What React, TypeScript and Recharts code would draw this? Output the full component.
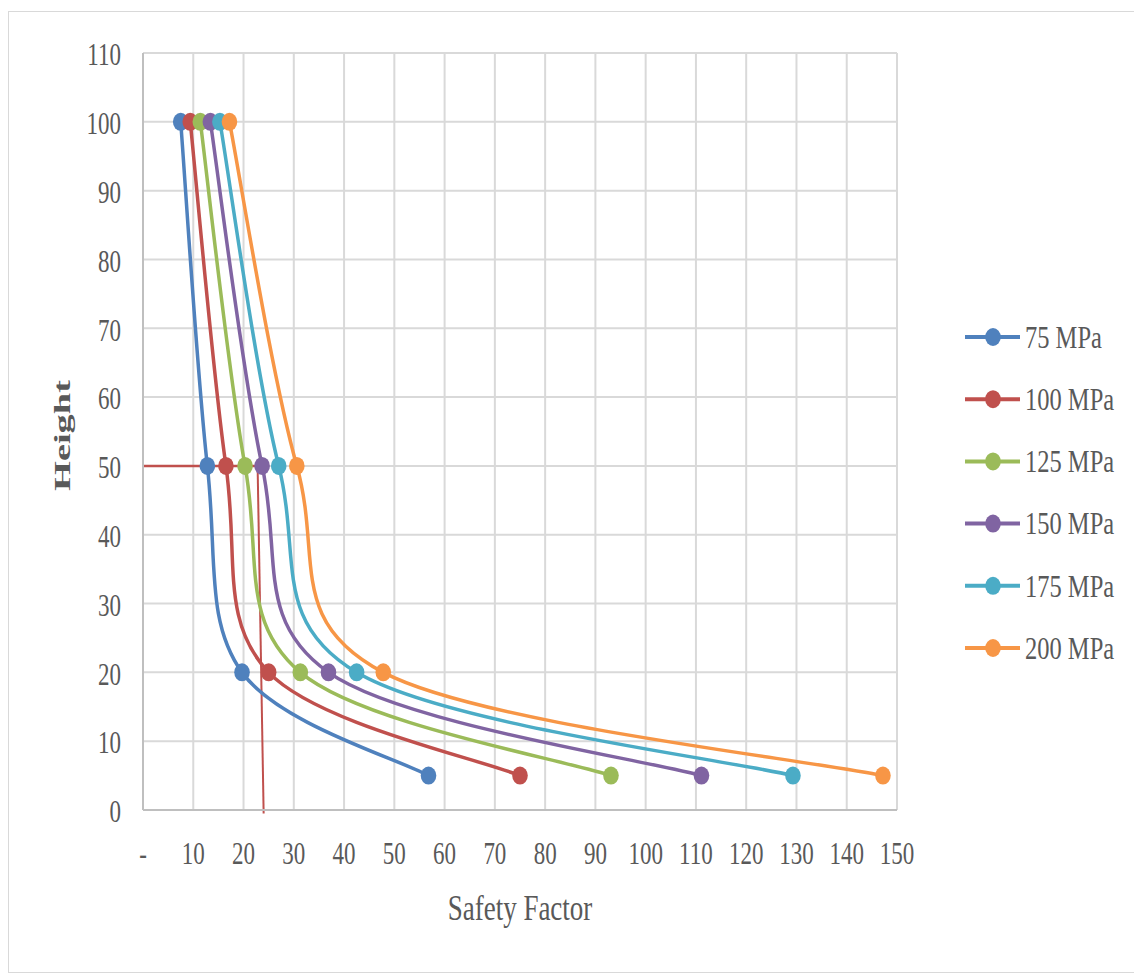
import React from 'react';
import {
  LineChart,
  Line,
  XAxis,
  YAxis,
  CartesianGrid,
  ReferenceLine,
} from 'recharts';

const heights = [100, 50, 20, 5];
const sf75 = [7.5, 12.8, 19.7, 56.8];
const sf100 = [9.4, 16.5, 25.0, 75.0];
const sf125 = [11.4, 20.3, 31.3, 93.1];
const sf150 = [13.4, 23.7, 36.9, 111.1];
const sf175 = [15.3, 27.0, 42.5, 129.3];
const sf200 = [17.2, 30.6, 47.8, 147.2];

const seriesNames = ['75 MPa', '100 MPa', '125 MPa', '150 MPa', '175 MPa', '200 MPa'];
const seriesColors = ['#4f81bd', '#c0504d', '#9bbb59', '#8064a2', '#4bacc6', '#f79646'];
const seriesValues = [sf75, sf100, sf125, sf150, sf175, sf200];

const xTicks = [0, 10, 20, 30, 40, 50, 60, 70, 80, 90, 100, 110, 120, 130, 140, 150];
const yTicks = [0, 10, 20, 30, 40, 50, 60, 70, 80, 90, 100, 110];

// red guide line
const guideY = 50;
const guideXTop = 22.8;
const guideXBottom = 24;

const FONT = '"Liberation Serif", "Times New Roman", serif';
const TEXT = '#595959';

const series = seriesNames.map((name, s) => ({
  name,
  color: seriesColors[s],
  data: heights.map((h, i) => ({ x: seriesValues[s][i], y: h })),
}));

// Excel-like smoothing (Catmull-Rom through the points)
const smoothCurve = (context: any) => {
  let pts: [number, number][] = [];
  return {
    areaStart() {},
    areaEnd() {},
    lineStart() {
      pts = [];
    },
    lineEnd() {
      if (!pts.length) return;
      context.moveTo(pts[0][0], pts[0][1]);
      for (let i = 0; i < pts.length - 1; i++) {
        const p0 = pts[i - 1] || pts[i];
        const p1 = pts[i];
        const p2 = pts[i + 1];
        const p3 = pts[i + 2] || p2;
        context.bezierCurveTo(
          p1[0] + (p2[0] - p0[0]) / 6,
          p1[1] + (p2[1] - p0[1]) / 6,
          p2[0] - (p3[0] - p1[0]) / 6,
          p2[1] - (p3[1] - p1[1]) / 6,
          p2[0],
          p2[1]
        );
      }
    },
    point(x: number, y: number) {
      pts.push([x, y]);
    },
  };
};

const YTick = (props: any) => {
  const { x, y, payload } = props;
  return (
    <g transform={`translate(${x},${y + 1.5}) scale(1,1.38)`}>
      <text textAnchor="end" dy="0.34em" fill={TEXT} fontSize={23} fontFamily={FONT}>
        {payload.value}
      </text>
    </g>
  );
};

const XTick = (props: any) => {
  const { x, y, payload } = props;
  return (
    <g transform={`translate(${x},${y}) scale(1,1.38)`}>
      <text textAnchor="middle" dy="0.34em" fill={TEXT} fontSize={23} fontFamily={FONT}>
        {payload.value === 0 ? '-' : payload.value}
      </text>
    </g>
  );
};

const Dot = (props: any) => {
  const { cx, cy, stroke } = props;
  if (cx == null || cy == null) return null;
  return <ellipse cx={cx} cy={cy} rx={7.8} ry={9} fill={stroke} />;
};

const App: React.FC = () => {
  return (
    <div
      style={{
        position: 'relative',
        width: 1134,
        height: 962,
        marginTop: 3,
        border: '1px solid #d9d9d9',
        boxSizing: 'border-box',
        background: '#fff',
      }}
    >
      <LineChart
        width={1132}
        height={960}
        margin={{ top: 41, right: 244, left: 0, bottom: 0 }}
      >
        <CartesianGrid stroke="#d9d9d9" strokeWidth={2} />
        <XAxis
          type="number"
          dataKey="x"
          domain={[0, 150]}
          ticks={xTicks}
          height={162}
          tickSize={0}
          tickMargin={43}
          tick={<XTick />}
          axisLine={{ stroke: '#bfbfbf', strokeWidth: 2 }}
          label={{
            content: (p: any) => {
              const vb = p.viewBox;
              const cx = vb.x + vb.width / 2;
              const cy = vb.y + 98;
              return (
                <g transform={`translate(${cx},${cy}) scale(1,1.3)`}>
                  <text textAnchor="middle" dy="0.34em" fill={TEXT} fontSize={27} fontFamily={FONT}>
                    Safety Factor
                  </text>
                </g>
              );
            },
          }}
        />
        <YAxis
          type="number"
          domain={[0, 110]}
          ticks={yTicks}
          width={134}
          tickSize={0}
          tickMargin={22}
          tick={<YTick />}
          axisLine={{ stroke: '#bfbfbf', strokeWidth: 2 }}
          label={{
            content: (p: any) => {
              const vb = p.viewBox;
              const cy = vb.y + vb.height / 2 + 4;
              return (
                <g transform={`translate(53,${cy}) rotate(-90) scale(1.6,1)`}>
                  <text
                    textAnchor="middle"
                    dy="0.34em"
                    fill={TEXT}
                    fontSize={24}
                    fontWeight="bold"
                    fontFamily={FONT}
                  >
                    Height
                  </text>
                </g>
              );
            },
          }}
        />
        <ReferenceLine
          segment={[
            { x: 0, y: guideY },
            { x: guideXTop, y: guideY },
          ]}
          stroke="#c0504d"
          strokeWidth={2.5}
          ifOverflow="visible"
        />
        <ReferenceLine
          segment={[
            { x: guideXTop, y: guideY },
            { x: guideXBottom, y: -0.5 },
          ]}
          stroke="#c0504d"
          strokeWidth={2}
          ifOverflow="visible"
        />
        {series.map((s) => (
          <Line
            key={s.name}
            data={s.data}
            dataKey="y"
            name={s.name}
            type={smoothCurve as any}
            stroke={s.color}
            strokeWidth={3.5}
            dot={<Dot />}
            activeDot={false}
            isAnimationActive={false}
          />
        ))}
      </LineChart>
      <svg
        width={180}
        height={380}
        style={{ position: 'absolute', left: 950, top: 300 }}
      >
        {series.map((s, i) => {
          const cy = 25 + 62.2 * i;
          return (
            <g key={s.name}>
              <line x1={6} x2={61} y1={cy} y2={cy} stroke={s.color} strokeWidth={4} />
              <ellipse cx={34} cy={cy} rx={7.8} ry={9} fill={s.color} />
              <g transform={`translate(66,${cy}) scale(1,1.3)`}>
                <text dy="0.34em" fill={TEXT} fontSize={24.5} fontFamily={FONT}>
                  {s.name}
                </text>
              </g>
            </g>
          );
        })}
      </svg>
    </div>
  );
};

export default App;
